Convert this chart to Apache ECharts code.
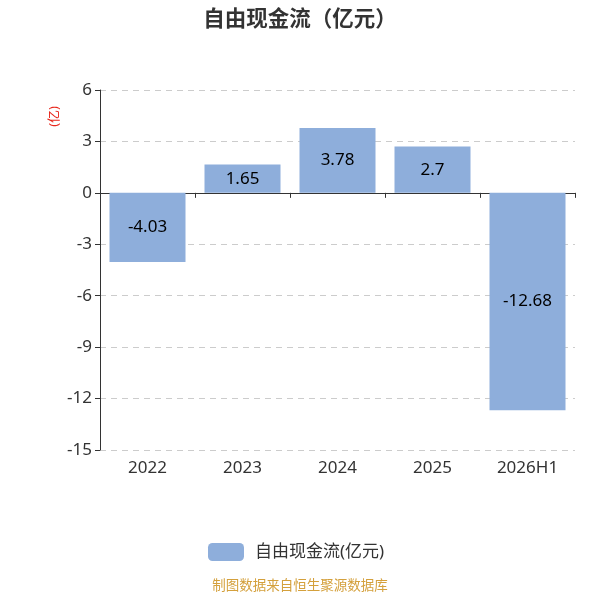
<!DOCTYPE html>
<html>
<head>
<meta charset="utf-8">
<script src="https://cdn.jsdelivr.net/npm/echarts@6/dist/echarts.min.js"></script>
<style>
  html, body { margin: 0; padding: 0; }
  #chart { width: 600px; height: 600px; }
</style>
</head>
<body>
<div id="chart"></div>
<script>
const years = ["2022", "2023", "2024", "2025", "2026H1"];
const freeCashFlow = [-4.03, 1.65, 3.78, 2.7, -12.68];
const seriesName = "自由现金流(亿元)";

const font = "'Noto Sans', 'Noto Sans CJK SC', sans-serif";
const chart = echarts.init(document.getElementById("chart"));

const option = {
  textStyle: { fontFamily: font },
  title: [
    {
      text: "自由现金流（亿元）",
      left: "center",
      top: 4,
      textStyle: { fontSize: 21.5, fontWeight: "bold", color: "#333", fontFamily: font },
    },
    {
      text: "制图数据来自恒生聚源数据库",
      left: "center",
      bottom: 2,
      textStyle: { fontSize: 13.5, fontWeight: "normal", color: "#d4a03c", fontFamily: font },
    },
  ],
  grid: { left: 100, right: 25, top: 90, bottom: 150 },
  legend: {
    data: [seriesName],
    top: 538,
    left: 203,
    icon: "roundRect",
    itemWidth: 36,
    itemHeight: 18,
    textStyle: { fontSize: 17, color: "#333", padding: [0, 0, 0, 6] },
  },
  graphic: [
    {
      type: "text",
      left: 48,
      top: 106,
      rotation: Math.PI / 2,
      style: { text: "(亿)", fill: "#e8261b", fontSize: 13, fontFamily: font },
    },
  ],
  xAxis: [
    {
      type: "category",
      data: years,
      axisLine: { onZero: true, lineStyle: { color: "#333" } },
      axisTick: { show: true, length: 5, lineStyle: { color: "#333" } },
      axisLabel: { show: false },
    },
    {
      type: "category",
      data: years,
      position: "bottom",
      axisLine: { show: false, onZero: false },
      axisTick: { show: false },
      axisLabel: { fontSize: 17, color: "#333", margin: 10 },
    },
  ],
  yAxis: {
    type: "value",
    min: -15,
    max: 6,
    interval: 3,
    axisLine: { show: true, lineStyle: { color: "#333" } },
    axisTick: { show: true, length: 5, lineStyle: { color: "#333" } },
    axisLabel: { fontSize: 17, color: "#333", margin: 8 },
    splitLine: { lineStyle: { type: [6, 5], color: "#ccc" } },
  },
  series: [
    {
      name: seriesName,
      type: "bar",
      xAxisIndex: 0,
      data: freeCashFlow,
      barWidth: "80%",
      itemStyle: { color: "#8eaedb" },
      label: { show: true, position: "inside", fontSize: 17, color: "#000" },
    },
  ],
};

chart.setOption(option);
</script>
</body>
</html>
